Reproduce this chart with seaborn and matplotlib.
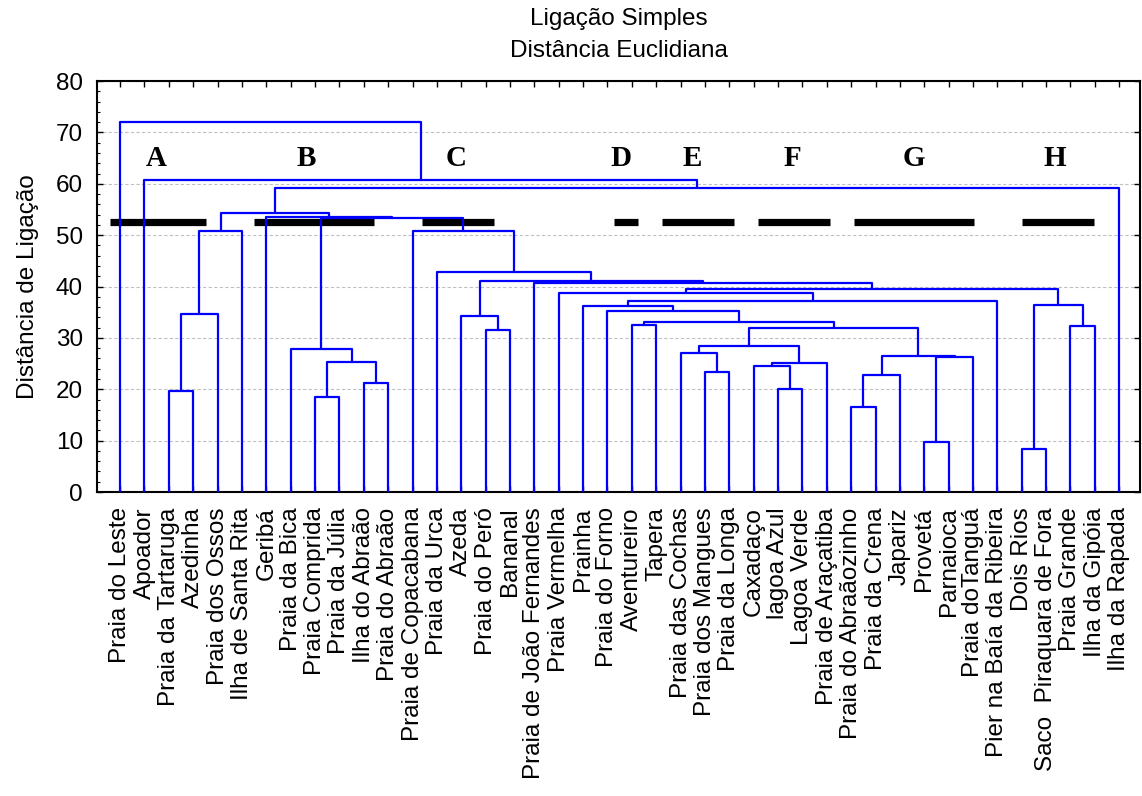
import numpy as np
import pandas as pd
import matplotlib
matplotlib.use("Agg")
import matplotlib.pyplot as plt
import seaborn as sns
from matplotlib.ticker import MultipleLocator, FixedLocator

# Sampling sites, in dendrogram leaf order
sites = [
    "Praia do Leste", "Apoador", "Praia da Tartaruga", "Azedinha",
    "Praia dos Ossos", "Ilha de Santa Rita", "Geribá", "Praia da Bica",
    "Praia Comprida", "Praia da Júlia", "Ilha do Abraão", "Praia do Abraão",
    "Praia de Copacabana", "Praia da Urca", "Azeda", "Praia do Peró",
    "Bananal", "Praia de João Fernandes", "Praia Vermelha", "Prainha",
    "Praia do Forno", "Aventureiro", "Tapera", "Praia das Cochas",
    "Praia dos Mangues", "Praia da Longa", "Caxadaço", "lagoa Azul",
    "Lagoa Verde", "Praia de Araçatiba", "Praia do Abraãozinho",
    "Praia da Crena", "Japariz", "Provetá", "Parnaioca", "Praia doTanguá",
    "Pier na Baía da Ribeira", "Dois Rios", "Saco  Piraquara de Fora",
    "Praia Grande", "Ilha da Gipóia", "Ilha da Rapada",
]

# Single-linkage merge steps. Ids 0..41 are the sites; merge k creates node 42 + k.
merge_a = [37, 33, 30, 8, 2, 27, 10, 44, 24, 26, 51, 45, 43, 49, 23, 7, 56,
           15, 58, 39, 21, 62, 14, 46, 20, 19, 42, 67, 18, 70, 17, 64, 13,
           65, 12, 57, 6, 75, 79, 1, 0]
merge_b = [38, 34, 31, 9, 3, 28, 11, 32, 25, 47, 29, 48, 35, 54, 50, 53, 52,
           16, 55, 40, 22, 60, 59, 4, 63, 66, 61, 36, 69, 68, 71, 72, 73,
           5, 74, 76, 77, 78, 41, 80, 81]
merge_dist = [8.3, 9.7, 16.5, 18.5, 19.7, 20.0, 21.2, 22.8, 23.3, 24.5, 25.2,
              25.3, 26.3, 26.5, 27.0, 27.9, 28.4, 31.6, 31.9, 32.4, 32.6, 33.1,
              34.3, 34.7, 35.3, 36.3, 36.5, 37.2, 38.8, 39.5, 40.6, 41.0, 42.9,
              50.8, 50.9, 53.3, 53.6, 54.3, 59.2, 60.7, 72.0]

# Groups formed by cutting the tree
group_letters = ["A", "B", "C", "D", "E", "F", "G", "H"]
cut_level = 52.5

# Annotation layout (leaf-axis units)
letter_x = [2.48, 8.64, 14.80, 21.56, 24.46, 28.57, 33.56, 39.37]
letter_y = 63.5
bar_start = [0.59, 6.50, 13.39, 21.27, 23.24, 27.18, 31.12, 38.01]
bar_end = [4.52, 11.41, 16.35, 22.26, 26.19, 30.13, 36.04, 40.97]

# Build the U-shaped links of the dendrogram
n = len(sites)
xpos = {i: float(i + 1) for i in range(n)}
ypos = {i: 0.0 for i in range(n)}
rows = []
for k, (a, b, d) in enumerate(zip(merge_a, merge_b, merge_dist)):
    xa, xb = xpos[a], xpos[b]
    for x, y in [(xa, ypos[a]), (xa, d), (xb, d), (xb, ypos[b])]:
        rows.append({"link": k, "x": x, "y": y})
    xpos[n + k] = (xa + xb) / 2.0
    ypos[n + k] = d
links = pd.DataFrame(rows)

sns.set_theme(style="white", rc={
    "text.color": "black", "axes.labelcolor": "black",
    "xtick.color": "black", "ytick.color": "black",
})
plt.rcParams["font.family"] = ["Liberation Sans", "DejaVu Sans"]

fig = plt.figure(figsize=(11.42, 7.96), dpi=100)
ax = fig.add_axes([0.0849, 0.3819, 0.9133, 0.5163])

# Cut bars under the tree
ax.hlines([cut_level] * len(bar_start), bar_start, bar_end, colors="black",
          linewidth=5.2, capstyle="butt", zorder=1)

sns.lineplot(data=links, x="x", y="y", units="link", estimator=None,
             sort=False, color="#0000ff", linewidth=1.6, legend=False,
             ax=ax, zorder=3)

for letter, lx in zip(group_letters, letter_x):
    ax.text(lx, letter_y, letter, ha="center", va="baseline",
            fontsize=21, fontweight="bold", family="Liberation Serif",
            color="black", zorder=4)

ax.set_xlim(0.05, 42.85)
ax.set_ylim(0, 80)

ax.yaxis.set_major_locator(MultipleLocator(10))
ax.yaxis.set_minor_locator(MultipleLocator(2))
ax.xaxis.set_major_locator(FixedLocator(np.arange(1, n + 1)))
ax.set_xticklabels(sites, rotation=90, fontsize=17.5)
ax.tick_params(axis="y", labelsize=17.5, pad=10)
ax.tick_params(axis="both", which="major", direction="in", length=4,
               width=1, color="black", top=True, right=True, left=True,
               bottom=True)
ax.tick_params(axis="x", pad=11)
ax.tick_params(axis="y", which="minor", direction="in", length=2.5,
               width=0.8, left=True, right=False)

ax.grid(axis="y", which="major", color="#c0c0c0", linestyle=(0, (3, 2)),
        linewidth=0.8)
ax.set_axisbelow(True)

for s in ax.spines.values():
    s.set_color("black")
    s.set_linewidth(1.5)

ax.set_xlabel("")
ax.set_ylabel("Distância de Ligação", fontsize=17.5, labelpad=12)
ax.set_title("Ligação Simples\nDistância Euclidiana", fontsize=17.5,
             pad=17, linespacing=1.6)

fig.savefig("out.png", dpi=100, facecolor="white")
